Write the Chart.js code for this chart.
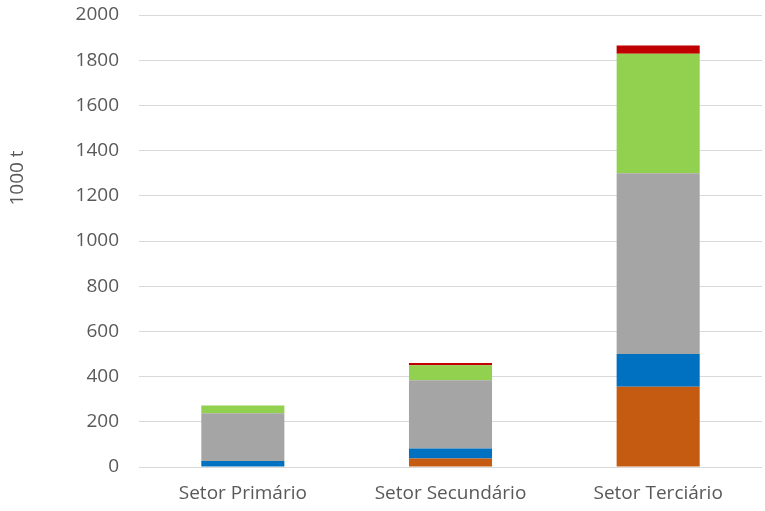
<!DOCTYPE html>
<html>
<head>
    <title>Resíduos por setor</title>
    <style>
        body {
            margin: 0;
            background: #ffffff;
        }
        #chartContainer {
            width: 765px;
            height: 511px;
        }
    </style>
    <script src="https://cdn.jsdelivr.net/npm/chart.js"></script>
</head>
<body>
    <div id="chartContainer">
        <canvas id="myChart"></canvas>
    </div>

    <script>
        // setores (eixo x)
        let setores = ['Setor Primário', 'Setor Secundário', 'Setor Terciário'];

        // valores em 1000 t, de baixo para cima em cada barra
        let serieLaranja = [0, 38, 355];
        let serieAzul = [27, 44, 145];
        let serieCinza = [211, 302, 800];
        let serieVerde = [34, 66, 528];
        let serieVermelha = [0, 10, 37];

        let yMin = 0;
        let yMax = 2000;
        let yStep = 200;
        let yTitulo = '1000 t';

        let fonte = '"Open Sans", "DejaVu Sans", sans-serif';
        let corTexto = '#595959';

        // titulo do eixo y desenhado a mao (fica acima do centro do eixo)
        let tituloEixoY = {
            id: 'tituloEixoY',
            afterDraw(chart) {
                let c = chart.ctx;
                c.save();
                c.translate(18, 178);
                c.rotate(-Math.PI / 2);
                c.font = '19px ' + fonte;
                c.fillStyle = corTexto;
                c.textAlign = 'center';
                c.textBaseline = 'middle';
                c.fillText(yTitulo, 0, 0);
                c.restore();
            }
        };

        let ctx = document.getElementById('myChart').getContext('2d');
        let myChart = new Chart(ctx, {
            type: 'bar',
            data: {
                labels: setores,
                datasets: [
                    { label: 'Série 1', data: serieLaranja, backgroundColor: '#C55A11' },
                    { label: 'Série 2', data: serieAzul, backgroundColor: '#0070C0' },
                    { label: 'Série 3', data: serieCinza, backgroundColor: '#A5A5A5' },
                    { label: 'Série 4', data: serieVerde, backgroundColor: '#92D050' },
                    { label: 'Série 5', data: serieVermelha, backgroundColor: '#C00000' }
                ]
            },
            options: {
                responsive: true,
                maintainAspectRatio: false,
                animation: false,
                categoryPercentage: 0.4,
                barPercentage: 1.0,
                layout: {
                    padding: { top: 15, right: 3, bottom: 0, left: 0 }
                },
                plugins: {
                    legend: { display: false },
                    tooltip: { enabled: false }
                },
                scales: {
                    x: {
                        stacked: true,
                        grid: { display: false, drawTicks: false },
                        border: { display: false },
                        ticks: {
                            color: corTexto,
                            font: { family: fonte, size: 19 },
                            padding: 15,
                            maxRotation: 0
                        },
                        afterFit(scale) {
                            scale.height = 44;
                        }
                    },
                    y: {
                        stacked: true,
                        min: yMin,
                        max: yMax,
                        grid: { color: '#D9D9D9', lineWidth: 1, drawTicks: false },
                        border: { display: false },
                        ticks: {
                            stepSize: yStep,
                            color: corTexto,
                            font: { family: fonte, size: 19 },
                            padding: 20,
                            callback: (v) => String(v)
                        },
                        afterFit(scale) {
                            scale.width = 139;
                            scale.paddingTop = 0;
                            scale.paddingBottom = 0;
                        }
                    }
                }
            },
            plugins: [tituloEixoY]
        });
    </script>
</body>
</html>
